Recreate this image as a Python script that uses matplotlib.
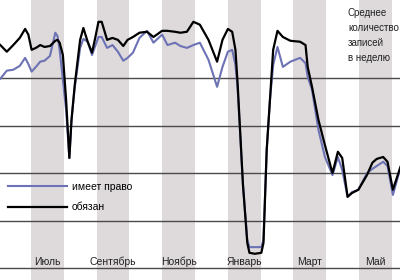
import matplotlib
matplotlib.use("Agg")
import matplotlib.pyplot as plt

plt.rcParams['font.family'] = ['Liberation Sans Narrow', 'Liberation Sans', 'DejaVu Sans']

# days since 1 June
days = [2, 8, 14, 20, 25, 28, 31, 35, 39, 43,
        48, 53, 55, 57, 60, 63, 66, 68, 71, 76,
        79, 83, 87, 90, 93, 96, 101, 106, 111, 116,
        120, 125, 131, 138, 144, 152, 157, 164, 169, 175,
        181, 187, 195, 203, 208, 213, 217, 220, 222, 227,
        231, 233, 238, 244, 246, 249, 252, 255, 259, 264,
        271, 280, 285, 287, 291, 297, 303, 310, 315, 319,
        324, 328, 334, 342, 347, 351, 357, 361, 366, 373]

# обязан
obliged = [47.0, 45.6, 47.0, 48.5, 50.4, 49.2, 46.0, 46.4, 47.0, 46.6,
           46.8, 47.9, 48.1, 47.5, 44.9, 35.4, 23.2, 31.2, 38.6, 48.1,
           50.6, 47.7, 45.4, 48.5, 51.9, 51.9, 48.1, 48.5, 48.1, 46.8,
           48.1, 48.7, 49.6, 49.8, 48.7, 50.0, 50.0, 49.8, 49.6, 49.8,
           51.9, 51.3, 48.1, 43.5, 48.1, 50.4, 49.8, 46.0, 39.0, 17.5,
           5.3, 3.2, 3.0, 3.2, 5.3, 24.9, 35.4, 46.0, 50.0, 48.7,
           47.9, 47.7, 47.0, 42.4, 38.2, 31.2, 25.9, 20.0, 24.5, 23.2,
           15.0, 15.8, 16.5, 19.6, 22.2, 23.0, 23.4, 22.4, 16.5, 21.3]

# имеет право
entitled = [39.9, 41.6, 41.8, 42.6, 44.3, 43.0, 41.4, 42.4, 43.5, 43.7,
            44.7, 49.6, 48.9, 46.0, 39.7, 33.3, 23.2, 31.2, 38.0, 46.4,
            48.3, 47.7, 44.9, 46.8, 48.7, 48.7, 46.4, 47.0, 45.6, 43.7,
            44.3, 45.4, 48.5, 50.0, 47.5, 49.2, 47.0, 47.5, 46.8, 46.4,
            47.0, 47.5, 43.9, 38.2, 42.4, 45.6, 46.0, 42.8, 38.0, 17.5,
            5.9, 4.4, 4.4, 4.4, 5.9, 24.9, 35.4, 42.8, 46.6, 42.4,
            43.5, 44.3, 43.2, 40.3, 37.6, 29.1, 23.4, 19.6, 23.4, 20.7,
            15.0, 16.0, 16.5, 20.0, 20.9, 21.5, 22.4, 21.5, 15.4, 21.1]

month_names = ["Июль", "Сентябрь", "Ноябрь", "Январь", "Март", "Май"]
month_len = 365 / 12

fig = plt.figure(figsize=(4, 2.8), dpi=100)
ax = fig.add_axes([0, 0, 1, 1])

# grey stripes for every second month
for i, name in enumerate(month_names):
    m = 1 + 2 * i
    ax.axvspan(m * month_len, (m + 1) * month_len, color='#dedadb', lw=0, zorder=0)
    ax.text((m + 0.5) * month_len, 0.064, name, transform=ax.get_xaxis_transform(),
            ha='center', va='center', fontsize=7.5, color='#222222')

for g in [0, 10, 20, 30, 40]:
    ax.axhline(g, color='#4a4a4a', lw=1, zorder=1)

ax.plot(days, entitled, color='#6c72b4', lw=1.5, label='имеет право', zorder=3,
        solid_joinstyle='round')
ax.plot(days, obliged, color='black', lw=1.6, label='обязан', zorder=4,
        solid_joinstyle='round')

ax.text(0.87, 0.97, "Среднее\nколичество\nзаписей\nв неделю", transform=ax.transAxes,
        ha='left', va='top', fontsize=7.0, linespacing=1.6, color='#222222')

ax.legend(loc='upper left', bbox_to_anchor=(0.01, 0.365), frameon=False, fontsize=7.5,
          handlelength=5.6, handletextpad=0.5, labelspacing=1.0, borderaxespad=0)

ax.set_xlim(1.7, 372.6)
ax.set_ylim(-2.53, 56.5)
ax.axis('off')

fig.savefig('out.png', dpi=100)
